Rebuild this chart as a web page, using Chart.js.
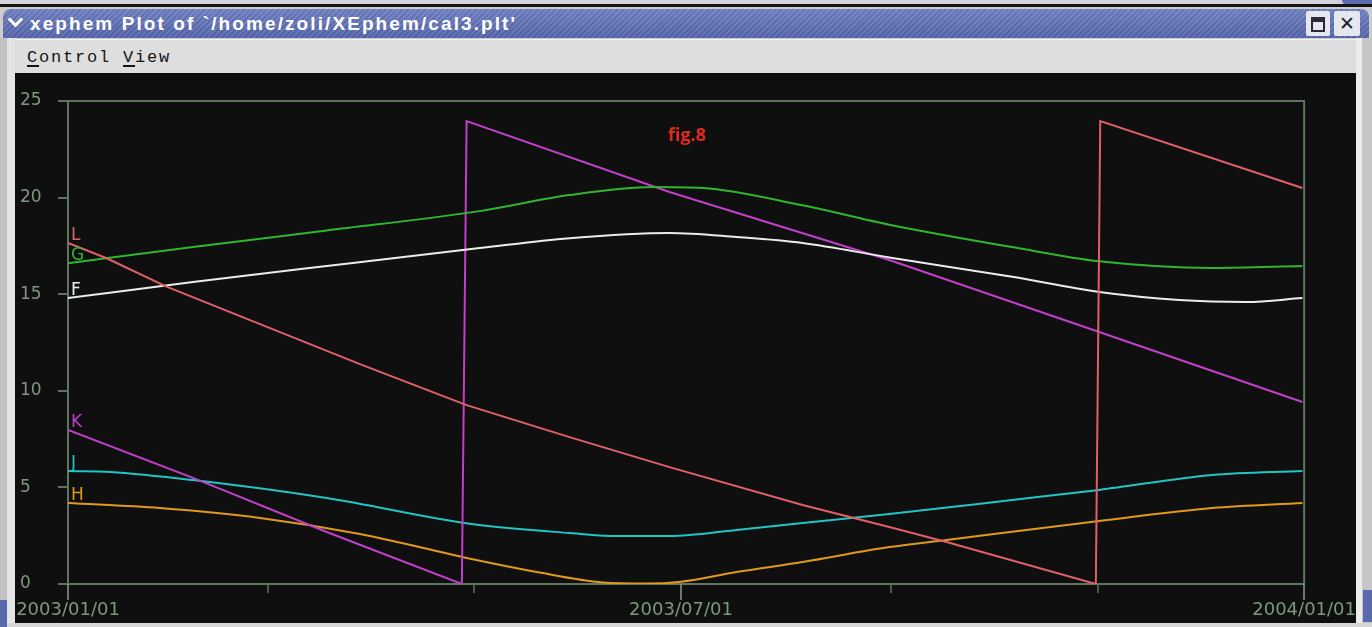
<!DOCTYPE html>
<html>
<head>
<meta charset="utf-8">
<title>xephem Plot of cal3.plt</title>
<script src="https://cdn.jsdelivr.net/npm/chart.js@4.4.1/dist/chart.umd.min.js"></script>
<style>
  html, body { margin: 0; padding: 0; width: 1372px; height: 627px; overflow: hidden; background: #c6c6c8; }
  .abs { position: absolute; }
  #topStrip { left: 0; top: 0; width: 1372px; height: 4px; background: #d2d3dc; }
  #topCorner { left: 1342px; top: 0; width: 30px; height: 5px; background: #5d6cae; border-radius: 0 0 0 6px; }
  #topLine { left: 0; top: 4px; width: 1372px; height: 3px; background: #141414; }
  #frame { left: 0; top: 7px; width: 1372px; height: 620px; background: #cdcdcd; }
  #titleBar {
    left: 3px; top: 9px; width: 1366px; height: 29px; border-radius: 8px 8px 0 0;
    background:
      repeating-linear-gradient(135deg, rgba(255,255,255,0.07) 0 2px, rgba(0,0,0,0.07) 2px 4px),
      linear-gradient(#7282c4, #5666ac);
  }
  #chev { left: 10px; top: 14px; width: 8px; height: 8px; border-right: 3px solid #fff; border-bottom: 3px solid #fff; transform: rotate(45deg); }
  #titleText { left: 30px; top: 13px; height: 22px; line-height: 22px; color: #fff; font-family: "Liberation Sans", "DejaVu Sans", sans-serif; font-weight: bold; font-size: 19px; white-space: nowrap; }
  #btnMax { left: 1306px; top: 11px; width: 24px; height: 25px; background: #e6e7ee; border-radius: 2px; }
  #btnMax div { position: absolute; left: 5px; top: 6px; width: 10px; height: 8px; border: 2px solid #2a2a3a; border-top-width: 5px; }
  #btnClose { left: 1334px; top: 11px; width: 26px; height: 25px; background: #e6e7ee; border-radius: 2px; color: #1e1e2a; font: bold 19px "DejaVu Sans", sans-serif; text-align: center; line-height: 25px; }
  #leftEdge { left: 0; top: 38px; width: 7px; height: 589px; background: #c2c2c2; }
  #leftLight { left: 7px; top: 38px; width: 8px; height: 589px; background: #e4e4e4; }
  #rightLight { left: 1356px; top: 38px; width: 6px; height: 589px; background: #ececec; }
  #rightEdge { left: 1362px; top: 38px; width: 10px; height: 589px; background: #c6c6c6; }
  #menuBar { left: 15px; top: 39px; width: 1341px; height: 33px; background: #dedede; border-top: 1px solid #f2f2f2; }
  #menuText { left: 27px; top: 48px; line-height: 20px; font: 17px "Liberation Mono", "DejaVu Sans Mono", monospace; color: #141414; letter-spacing: 1.8px; white-space: pre; }
  #menuText u { text-decoration-thickness: 2px; text-underline-offset: 3px; }
  #plotBg { left: 15px; top: 73px; width: 1341px; height: 550px; background: #0f0f0f; }
  #bottomEdge { left: 0; top: 623px; width: 1372px; height: 4px; background: #d6d6d6; }
  #blueBL { left: 0; top: 600px; width: 7px; height: 27px; background: #5a69ae; }
  #blueBR { left: 1363px; top: 590px; width: 9px; height: 32px; background: #5a69ae; }
  #figLabel { left: 647px; top: 121px; width: 80px; text-align: center; color: #de2a1f; font: bold 18px "Open Sans", sans-serif; line-height: 26px; }
  #plotWrap { left: 0; top: 0; width: 1372px; height: 627px; }
</style>
</head>
<body>
<div class="abs" id="topStrip"></div>
<div class="abs" id="topCorner"></div>
<div class="abs" id="topLine"></div>
<div class="abs" id="frame"></div>
<div class="abs" id="titleBar"></div>
<div class="abs" id="chev"></div>
<div class="abs" id="titleText">xephem Plot of `/home/zoli/XEphem/cal3.plt'</div>
<div class="abs" id="btnMax"><div></div></div>
<div class="abs" id="btnClose">✕</div>
<div class="abs" id="leftEdge"></div>
<div class="abs" id="leftLight"></div>
<div class="abs" id="rightLight"></div>
<div class="abs" id="rightEdge"></div>
<div class="abs" id="menuBar"></div>
<div class="abs" id="menuText"><u>C</u>ontrol <u>V</u>iew</div>
<div class="abs" id="plotBg"></div>
<div class="abs" id="bottomEdge"></div>
<div class="abs" id="blueBL"></div>
<div class="abs" id="blueBR"></div>
<div class="abs" id="plotWrap"><canvas id="plot" width="1372" height="627"></canvas></div>
<div class="abs" id="figLabel">fig.8</div>

<script>
// Day of year 2003 (0 = 2003/01/01, 365 = 2004/01/01) against hours (0..25)

const xTickDays   = [0, 59, 120, 181, 243, 304, 365];
const xTickLabels = ['2003/01/01', '', '', '2003/07/01', '', '', '2004/01/01'];
const yTickValues = [0, 5, 10, 15, 20, 25];

const seriesNames  = ['L', 'G', 'F', 'K', 'J', 'H'];
const seriesColors = ['#e0606a', '#2fb52f', '#ececec', '#c23fcc', '#22c4c4', '#e0981e'];

const lDays = [0, 11.4, 29.1, 56.7, 86.2, 117.7, 148.1, 177.6, 216.9, 242.5, 259.4, 303.5, 304.8, 364.5];
const lVals = [17.65, 16.86, 15.39, 13.45, 11.38, 9.26, 7.6, 6.05, 4.09, 2.95, 2.17, 0.0, 23.96, 20.5];

const gDays = [0, 36.9, 76.4, 121.6, 148.1, 172.6, 187.4, 216.9, 242.5, 278.8, 304.5, 337.9, 364.5];
const gVals = [16.6, 17.44, 18.3, 19.3, 20.13, 20.55, 20.5, 19.6, 18.6, 17.44, 16.7, 16.36, 16.46];

const fDays = [0, 36.9, 76.4, 121.6, 148.1, 177.6, 197.4, 216.9, 242.5, 278.8, 304.5, 328.1, 347.9, 364.5];
const fVals = [14.8, 15.63, 16.46, 17.39, 17.9, 18.17, 17.96, 17.65, 16.9, 15.9, 15.11, 14.7, 14.6, 14.8];

const kDays = [0, 36.9, 76.4, 116.3, 117.7, 177.6, 242.5, 304.5, 364.5];
const kVals = [7.97, 5.49, 2.69, 0.0, 23.96, 20.29, 16.77, 13.04, 9.42];

const jDays = [0, 12.4, 36.9, 76.4, 118.6, 148.1, 162.9, 177.6, 197.4, 216.9, 242.5, 278.8, 304.5, 337.9, 364.5];
const jVals = [5.85, 5.8, 5.38, 4.45, 3.12, 2.64, 2.48, 2.48, 2.8, 3.16, 3.62, 4.35, 4.87, 5.64, 5.85];

const hDays = [0, 27.1, 56.7, 86.2, 121.6, 138.4, 157.9, 170.8, 181.0, 197.4, 216.9, 242.5, 259.4, 304.5, 337.9, 364.5];
const hVals = [4.19, 3.93, 3.42, 2.59, 1.2, 0.62, 0.08, 0.02, 0.12, 0.62, 1.14, 1.91, 2.28, 3.26, 3.93, 4.19];

const frameColor = '#5d755d';
const labelColor = '#7e987e';

function toPoints(days, vals) {
  return days.map((d, i) => ({ x: d, y: vals[i] }));
}

// Fit the window title into its slot in the title bar
(function fitTitle() {
  const el = document.getElementById('titleText');
  const target = 487;
  const chars = el.textContent.length;
  const w = el.getBoundingClientRect().width;
  el.style.letterSpacing = ((target - w) / chars).toFixed(2) + 'px';
})();

const seriesData = [
  toPoints(lDays, lVals),
  toPoints(gDays, gVals),
  toPoints(fDays, fVals),
  toPoints(kDays, kVals),
  toPoints(jDays, jVals),
  toPoints(hDays, hVals)
];
const smoothSeries = [false, true, true, false, true, true];

// Plot box, y tick marks and the short/long date ticks under the x axis
const framePlugin = {
  id: 'plotFrame',
  beforeDatasetsDraw(chart) {
    const { ctx, chartArea: a, scales: { x, y } } = chart;
    ctx.save();
    ctx.strokeStyle = frameColor;
    ctx.lineWidth = 2;
    ctx.beginPath();
    ctx.moveTo(a.left - 10, a.top);
    ctx.lineTo(a.right, a.top);
    ctx.lineTo(a.right, a.bottom);
    ctx.lineTo(a.left - 10, a.bottom);
    ctx.moveTo(a.left, a.top);
    ctx.lineTo(a.left, a.bottom);
    yTickValues.forEach(v => {
      const py = Math.round(y.getPixelForValue(v));
      ctx.moveTo(a.left - 10, py);
      ctx.lineTo(a.left, py);
    });
    ctx.stroke();
    ctx.lineWidth = 1.5;
    xTickDays.forEach((d, i) => {
      const px = Math.round(x.getPixelForValue(d));
      const major = xTickLabels[i] !== '';
      ctx.strokeStyle = major ? '#8a9e8a' : frameColor;
      ctx.beginPath();
      ctx.moveTo(px, a.bottom);
      ctx.lineTo(px, a.bottom + (major ? 16 : 9));
      ctx.stroke();
    });
    ctx.restore();
  },
  afterDatasetsDraw(chart) {
    const { ctx } = chart;
    ctx.save();
    ctx.font = '17px "DejaVu Sans", sans-serif';
    ctx.textAlign = 'left';
    ctx.textBaseline = 'alphabetic';
    seriesNames.forEach((name, i) => {
      const p = chart.getDatasetMeta(i).data[0];
      ctx.fillStyle = seriesColors[i];
      ctx.fillText(name, p.x + 3, p.y - 3);
    });
    ctx.restore();
  }
};

new Chart(document.getElementById('plot'), {
  type: 'line',
  data: {
    datasets: seriesNames.map((name, i) => ({
      label: name,
      data: seriesData[i],
      borderColor: seriesColors[i],
      borderWidth: 2,
      pointRadius: 0,
      fill: false,
      cubicInterpolationMode: smoothSeries[i] ? 'monotone' : 'default',
      tension: 0
    }))
  },
  options: {
    responsive: false,
    animation: false,
    events: [],
    layout: { padding: { left: 20, top: 101, right: 67, bottom: 0 } },
    plugins: { legend: { display: false }, tooltip: { enabled: false } },
    scales: {
      x: {
        type: 'linear',
        min: 0,
        max: 365,
        border: { display: false },
        grid: { display: false, drawTicks: false, tickLength: 0 },
        afterBuildTicks: scale => { scale.ticks = xTickDays.map(v => ({ value: v })); },
        afterFit: scale => { scale.height = 43; },
        ticks: {
          autoSkip: false,
          maxRotation: 0,
          padding: 16,
          color: labelColor,
          font: { family: '"DejaVu Sans", sans-serif', size: 18 },
          callback: (value) => {
            const i = xTickDays.indexOf(value);
            return i >= 0 ? xTickLabels[i] : '';
          }
        }
      },
      y: {
        min: 0,
        max: 25,
        border: { display: false },
        grid: { display: false, drawTicks: false, tickLength: 0 },
        afterBuildTicks: scale => { scale.ticks = yTickValues.map(v => ({ value: v })); },
        afterFit: scale => { scale.width = 48; },
        ticks: {
          crossAlign: 'far',
          color: labelColor,
          font: { family: '"DejaVu Sans", sans-serif', size: 17 }
        }
      }
    }
  },
  plugins: [framePlugin]
});
</script>
</body>
</html>
